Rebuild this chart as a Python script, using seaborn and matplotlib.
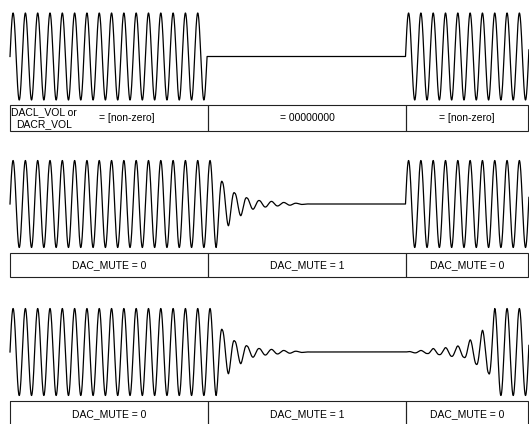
import matplotlib.pyplot as plt
import matplotlib.patches as patches
import numpy as np
import pandas as pd
import seaborn as sns

# time axis is in pixel-like units; carrier period
PERIOD = 12.31
T_START = 10.0
CUT_CYCLES = 16      # full cycles before the hard cut of row 1
T_FULL_END = 216.2   # last full-amplitude trough before soft mute
T_RESUME = 405.5     # audio back on
T_END = 529.0

# relative amplitude at each half-cycle peak while the soft mute ramps down
DECAY_AMPS = [0.5, 0.5, 0.25, 0.27, 0.14, 0.12, 0.08, 0.07, 0.06, 0.045,
              0.035, 0.028, 0.018, 0.01, 0.0]
# relative amplitude at each half-cycle peak while the soft un-mute ramps up
GROWTH_AMPS = [0.01, 0.02, 0.035, 0.035, 0.08, 0.06, 0.1, 0.1, 0.14, 0.12,
               0.28, 0.28, 0.5, 0.48, 1.0]

VOL_LABELS = ["= [non-zero]", "= 00000000", "= [non-zero]"]
MUTE_LABELS = ["DAC_MUTE = 0", "DAC_MUTE = 1", "DAC_MUTE = 0"]
CELL_EDGES = [10, 208, 406, 528]

# layout (pixels)
ROW_CENTER = [56.5, 204.0, 352.0]
HALF_HEIGHT = 43.5
TABLE_TOP = [105, 253, 401]
TABLE_H = [26, 24, 26]

T_CUT = T_START + CUT_CYCLES * PERIOD


def carrier(t):
    t0 = np.where(t < T_RESUME, T_START, T_RESUME)
    return np.sin(2 * np.pi * (t - t0) / PERIOD)


def envelope(t, mode):
    env = np.zeros_like(t)
    if mode == "hard":
        env[t <= T_CUT] = 1.0
        env[t >= T_RESUME] = 1.0
        return env
    knots_t = [T_START, T_FULL_END]
    knots_a = [1.0, 1.0]
    for k, a in enumerate(DECAY_AMPS):
        knots_t.append(T_FULL_END + (k + 1) * PERIOD / 2)
        knots_a.append(a)
    before = t < T_RESUME
    env[before] = np.interp(t[before], knots_t, knots_a)
    after = ~before
    if mode == "soft":
        env[after] = 1.0
    else:
        gt = [T_RESUME] + [T_RESUME + PERIOD / 4 + k * PERIOD / 2
                           for k in range(len(GROWTH_AMPS))]
        ga = [0.0] + GROWTH_AMPS
        env[after] = np.interp(t[after], gt, ga)
    return env


t = np.arange(T_START, T_END, 0.1)
rows = []
for i, mode in enumerate(["hard", "soft", "ramp"]):
    y = ROW_CENTER[i] - HALF_HEIGHT * envelope(t, mode) * carrier(t)
    rows.append(pd.DataFrame({"t": t, "y": y, "row": i}))
df = pd.concat(rows, ignore_index=True)

fig = plt.figure(figsize=(5.29, 4.24), dpi=100)
ax = fig.add_axes([0, 0, 1, 1])

for i in range(3):
    sns.lineplot(data=df[df["row"] == i], x="t", y="y", estimator=None,
                 sort=False, color="black", linewidth=0.9, ax=ax)

font = dict(family="Liberation Sans", fontsize=7.5, color="black")
for i in range(3):
    top = TABLE_TOP[i]
    h = TABLE_H[i]
    for a, b in zip(CELL_EDGES[:-1], CELL_EDGES[1:]):
        ax.add_patch(patches.Rectangle((a, top), b - a, h, fill=False,
                                       edgecolor="#222222", linewidth=0.8))
    mid_y = top + h / 2
    labels = VOL_LABELS if i == 0 else MUTE_LABELS
    for j, lab in enumerate(labels):
        cx = (CELL_EDGES[j] + CELL_EDGES[j + 1]) / 2
        if i == 0 and j == 0:
            ax.text(44, mid_y, "DACL_VOL or\nDACR_VOL", ha="center",
                    va="center", multialignment="center", linespacing=1.25,
                    **font)
            cx = 127
        ax.text(cx, mid_y, lab, ha="center", va="center", **font)

ax.set_xlim(0, 529)
ax.set_ylim(424, 0)
ax.axis("off")
fig.savefig("out.png", dpi=100)
